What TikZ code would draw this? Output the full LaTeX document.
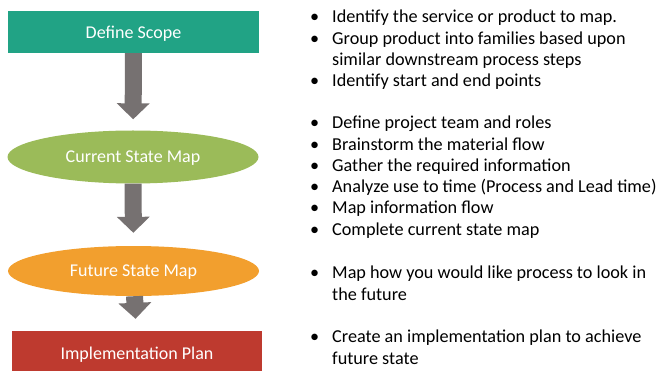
\documentclass[tikz,border=0pt]{standalone}
\usepackage{fontspec}
\setmainfont{Carlito}
\usetikzlibrary{arrows.meta,shapes.geometric}

\definecolor{scopeteal}{HTML}{21A385}
\definecolor{currentgreen}{HTML}{9BBB59}
\definecolor{futureorange}{HTML}{F29F2E}
\definecolor{planred}{HTML}{BE3A2F}
\definecolor{arrowgray}{HTML}{767171}

\newcommand{\bul}{\makebox[21pt][l]{\hspace*{-1pt}\textbullet}}
\newcommand{\hang}{\hspace*{21pt}}

\begin{document}
\begin{tikzpicture}[x=1pt, y=-1pt,
  step box/.style={draw=none, text=white, font=\fontsize{18}{21}\selectfont,
    minimum width=251pt, minimum height=42pt, inner sep=0pt, text depth=0pt},
  state oval/.style={step box, ellipse},
  flow/.style={draw=arrowgray, line width=17pt,
    -{Triangle[length=16pt, width=32pt]}},
  notes/.style={anchor=base west, align=left, inner sep=0pt,
    font=\fontsize{18.2}{21.2}\selectfont}]
\useasboundingbox (0,0) rectangle (660,371);

\node[step box, fill=scopeteal]                 (scope)   at (133.5,32)  {Define Scope};
\node[state oval, fill=currentgreen, minimum height=53pt] (current) at (133,157)  {Current State Map};
\node[state oval, fill=futureorange, minimum height=50pt] (future)  at (133.5,271) {Future State Map};
\node[step box, fill=planred, minimum width=250pt, minimum height=44pt] (plan) at (137,353) {Implementation Plan};

\draw[flow, shorten >=11pt] (scope)   -- (current);
\draw[flow, shorten >=13pt] (current) -- (future);
\draw[flow, shorten >=12pt] (future)  -- (plan);

% notes beside each step (placed at the baseline of their last line)
\node[notes] (scopenotes) at (311,86.6) {\bul Identify the service or product to map.\\
  \bul Group product into families based upon\\
  \hang similar downstream process steps\\
  \bul Identify start and end points};
\node[notes] (currentnotes) at (311,235) {\bul Define project team and roles\\
  \bul Brainstorm the material flow\\
  \bul Gather the required information\\
  \bul Analyze use to time (Process and Lead time)\\
  \bul Map information flow\\
  \bul Complete current state map};
\node[notes] (futurenotes) at (311,300) {\bul Map how you would like process to look in\\
  \hang the future};
\node[notes] (plannotes) at (311,364) {\bul Create an implementation plan to achieve\\
  \hang future state};
\end{tikzpicture}
\end{document}
